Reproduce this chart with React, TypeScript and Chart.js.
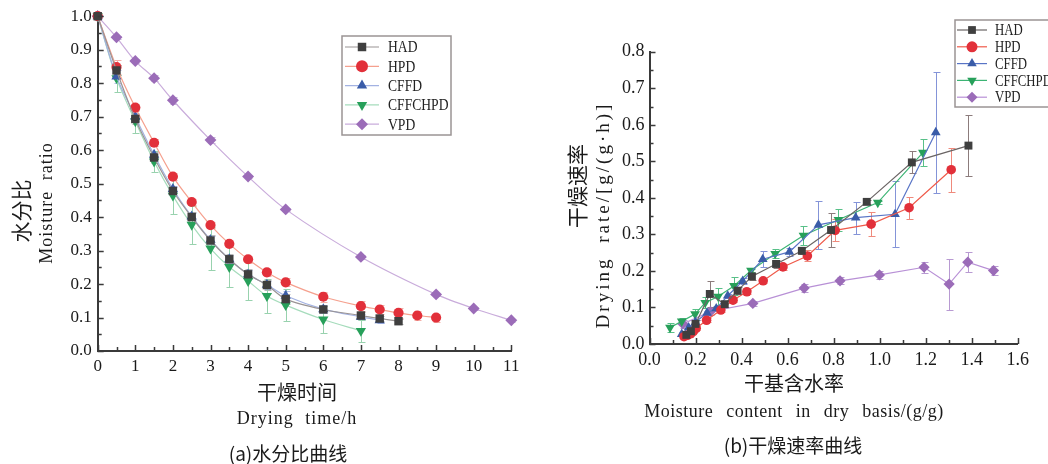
import React, { useEffect, useRef } from "react";
import { Chart, registerables } from "chart.js";
Chart.register(...registerables);

// ---------- (a) moisture ratio vs drying time ----------
const hadTime = [0, 0.5, 1, 1.5, 2, 2.5, 3, 3.5, 4, 4.5, 5, 6, 7, 7.5, 8];
const hadMR = [1.0, 0.838, 0.693, 0.578, 0.478, 0.4, 0.33, 0.274, 0.229, 0.197, 0.155, 0.124, 0.106, 0.097, 0.089];
const hadMRErr = [0, 0.015, 0.015, 0.015, 0.012, 0.015, 0.015, 0.015, 0.015, 0.015, 0.015, 0.01, 0.01, 0.008, 0.008];

const hpdTime = [0, 0.5, 1, 1.5, 2, 2.5, 3, 3.5, 4, 4.5, 5, 6, 7, 7.5, 8, 8.5, 9];
const hpdMR = [1.0, 0.848, 0.727, 0.622, 0.521, 0.445, 0.376, 0.32, 0.274, 0.235, 0.205, 0.162, 0.134, 0.124, 0.114, 0.106, 0.1];
const hpdMRErr = [0, 0.02, 0.01, 0.01, 0.01, 0.01, 0.01, 0.01, 0.01, 0.01, 0.012, 0.015, 0.016, 0.014, 0.014, 0.012, 0.012];

const cffdTime = [0, 0.5, 1, 1.5, 2, 2.5, 3, 3.5, 4, 4.5, 5, 6, 7, 7.5];
const cffdMR = [1.0, 0.82, 0.7, 0.586, 0.484, 0.402, 0.332, 0.274, 0.229, 0.198, 0.165, 0.125, 0.102, 0.092];
const cffdMRErr = [0, 0.02, 0.012, 0.012, 0.01, 0.01, 0.012, 0.012, 0.012, 0.012, 0.015, 0.012, 0.01, 0.008];

const chpdTime = [0, 0.5, 1, 1.5, 2, 2.5, 3, 3.5, 4, 4.5, 5, 6, 7];
const chpdMR = [1.0, 0.815, 0.686, 0.566, 0.464, 0.377, 0.306, 0.251, 0.209, 0.164, 0.137, 0.094, 0.06];
const chpdMRErr = [0, 0.04, 0.035, 0.03, 0.055, 0.057, 0.063, 0.06, 0.057, 0.05, 0.048, 0.041, 0.032];

const vpdTime = [0, 0.5, 1, 1.5, 2, 3, 4, 5, 7, 9, 10, 11];
const vpdMR = [1.0, 0.937, 0.866, 0.815, 0.749, 0.63, 0.521, 0.423, 0.281, 0.169, 0.127, 0.092];
const vpdMRErr = [0, 0.005, 0.006, 0.01, 0.01, 0.01, 0.005, 0.005, 0.005, 0.005, 0.005, 0.005];

const timeTicks = [0, 11, 1]; // min, max, step
const mrTicks = [0, 1, 0.1];

// ---------- (b) drying rate vs moisture content ----------
const hadMC = [0.16, 0.18, 0.2, 0.262, 0.327, 0.383, 0.445, 0.55, 0.662, 0.789, 0.944, 1.14, 1.386];
const hadRate = [0.025, 0.035, 0.055, 0.137, 0.109, 0.146, 0.185, 0.219, 0.255, 0.312, 0.389, 0.497, 0.543];
const hadRateErr = [0.008, 0.008, 0.01, 0.036, 0.008, 0.01, 0.01, 0.01, 0.01, 0.046, 0.005, 0.03, 0.084];

const hpdMC = [0.15, 0.165, 0.178, 0.19, 0.203, 0.248, 0.31, 0.363, 0.423, 0.494, 0.58, 0.686, 0.807, 0.963, 1.128, 1.311];
const hpdRate = [0.02, 0.024, 0.028, 0.034, 0.043, 0.065, 0.093, 0.12, 0.143, 0.173, 0.211, 0.241, 0.311, 0.328, 0.373, 0.477];
const hpdRateErr = [0.005, 0.005, 0.005, 0.005, 0.005, 0.005, 0.005, 0.005, 0.006, 0.006, 0.008, 0.015, 0.03, 0.032, 0.03, 0.06];

const cffdMC = [0.14, 0.17, 0.2, 0.25, 0.29, 0.34, 0.405, 0.492, 0.608, 0.734, 0.896, 1.067, 1.244];
const cffdRate = [0.027, 0.045, 0.06, 0.085, 0.097, 0.132, 0.172, 0.232, 0.252, 0.326, 0.346, 0.355, 0.579];
const cffdRateErr = [0.005, 0.005, 0.006, 0.006, 0.006, 0.006, 0.008, 0.022, 0.01, 0.066, 0.044, 0.09, 0.165];

const chpdMC = [0.089, 0.14, 0.198, 0.242, 0.298, 0.367, 0.441, 0.546, 0.669, 0.821, 0.992, 1.188];
const chpdRate = [0.045, 0.062, 0.082, 0.113, 0.13, 0.159, 0.201, 0.247, 0.297, 0.34, 0.387, 0.524];
const chpdRateErr = [0.012, 0.01, 0.015, 0.015, 0.022, 0.025, 0.005, 0.012, 0.027, 0.03, 0.005, 0.037];

const vpdMC = [0.145, 0.265, 0.449, 0.672, 0.828, 0.999, 1.193, 1.302, 1.383, 1.495];
const vpdRate = [0.055, 0.089, 0.111, 0.153, 0.173, 0.189, 0.21, 0.164, 0.224, 0.201];
const vpdRateErr = [0.01, 0.01, 0.008, 0.01, 0.01, 0.01, 0.015, 0.07, 0.028, 0.012];

const mcTicks = [0, 1.6, 0.2];
const rateTicks = [0, 0.8, 0.1];

const seriesNames = ["HAD", "HPD", "CFFD", "CFFCHPD", "VPD"];

// ---------- styles ----------
const markerColors = ["#3f3f3f", "#e2303a", "#3a5ca8", "#27a05a", "#9b6cb8"];
const markerStyles = ["rect", "circle", "triangle", "triangle", "rectRot"];
const markerRot = [0, 0, 0, 180, 0];
const markerRadius = [7, 6, 7, 7, 7];
const lineColorsA = ["#9a9494", "#f5a08e", "#a3b2e2", "#a6dcbc", "#c9acdb"];
const errColorsA = ["#b8b8b8", "#f3b0a8", "#b0bde8", "#98d2ae", "#c8b2dc"];
const lineColorsB = ["#6a6464", "#ef5a4a", "#5874c6", "#3cb474", "#b890d6"];
const errColorsB = ["#8c7c7c", "#ef8a7c", "#8494d8", "#58c088", "#b89ad2"];

const SERIF = "'Liberation Serif', 'Times New Roman', serif";
const CJK = "'Noto Sans CJK SC', sans-serif";

function pts(xs: number[], ys: number[]) {
  return xs.map((x, i) => ({ x, y: ys[i] }));
}

function drawMarker(ctx: CanvasRenderingContext2D, k: number, x: number, y: number, r: number) {
  ctx.save();
  ctx.fillStyle = markerColors[k];
  ctx.beginPath();
  const st = markerStyles[k];
  if (st === "rect") {
    const s = r * Math.SQRT1_2;
    ctx.rect(x - s, y - s, 2 * s, 2 * s);
  } else if (st === "circle") {
    ctx.arc(x, y, r, 0, Math.PI * 2);
  } else if (st === "triangle") {
    const dir = markerRot[k] === 180 ? -1 : 1;
    const w = (r * Math.sqrt(3)) / 2;
    ctx.moveTo(x, y - dir * r);
    ctx.lineTo(x - w, y + dir * r * 0.5);
    ctx.lineTo(x + w, y + dir * r * 0.5);
  } else {
    ctx.moveTo(x, y - r);
    ctx.lineTo(x + r, y);
    ctx.lineTo(x, y + r);
    ctx.lineTo(x - r, y);
  }
  ctx.closePath();
  ctx.fill();
  ctx.restore();
}

const errorBarPlugin = {
  id: "errorBars",
  beforeDatasetsDraw(chart: any) {
    const { ctx } = chart;
    const x = chart.scales.x;
    const y = chart.scales.y;
    chart.data.datasets.forEach((ds: any) => {
      const errs: number[] = ds.errors;
      if (!errs) return;
      ctx.save();
      ctx.strokeStyle = ds.errColor;
      ctx.lineWidth = 1;
      ctx.beginPath();
      ds.data.forEach((p: any, j: number) => {
        const e = errs[j];
        if (!e) return;
        const px = Math.round(x.getPixelForValue(p.x)) + 0.5;
        const y1 = Math.round(y.getPixelForValue(p.y + e)) + 0.5;
        const y2 = Math.round(y.getPixelForValue(p.y - e)) + 0.5;
        ctx.moveTo(px, y1);
        ctx.lineTo(px, y2);
        ctx.moveTo(px - 3, y1);
        ctx.lineTo(px + 4, y1);
        ctx.moveTo(px - 3, y2);
        ctx.lineTo(px + 4, y2);
      });
      ctx.stroke();
      ctx.restore();
    });
  },
};

const inTicksPlugin = {
  id: "inTicks",
  afterDraw(chart: any, _args: any, opts: any) {
    const { ctx, chartArea } = chart;
    const x = chart.scales.x;
    const y = chart.scales.y;
    ctx.save();
    ctx.strokeStyle = opts.color;
    ctx.lineWidth = 1.5;
    ctx.beginPath();
    const run = (sc: any, step: number, len: number, horiz: boolean) => {
      const n = Math.round((sc.max - sc.min) / step);
      for (let i = 0; i <= n; i++) {
        const v = sc.min + i * step;
        const p = Math.round(sc.getPixelForValue(v)) + 0.5;
        if (horiz) {
          ctx.moveTo(p, chartArea.bottom);
          ctx.lineTo(p, chartArea.bottom - len);
        } else {
          ctx.moveTo(chartArea.left, p);
          ctx.lineTo(chartArea.left + len, p);
        }
      }
    };
    run(x, opts.xStep, 6, true);
    run(x, opts.xStep / 2, 4, true);
    run(y, opts.yStep, 6, false);
    run(y, opts.yStep / 2, 4, false);
    ctx.stroke();
    ctx.restore();
  },
};

const legendPlugin = {
  id: "boxLegend",
  afterDraw(chart: any, _args: any, opts: any) {
    const { ctx } = chart;
    ctx.save();
    ctx.fillStyle = "#fff";
    ctx.fillRect(opts.x, opts.y, opts.w, opts.h);
    ctx.strokeStyle = "#9a9494";
    ctx.lineWidth = 1.5;
    ctx.strokeRect(opts.x, opts.y, opts.w, opts.h);
    chart.data.datasets.forEach((ds: any, k: number) => {
      const cy = opts.y0 + k * opts.rowH;
      ctx.strokeStyle = ds.borderColor;
      ctx.lineWidth = opts.lineW;
      ctx.beginPath();
      ctx.moveTo(opts.lx0, cy);
      ctx.lineTo(opts.lx1, cy);
      ctx.stroke();
      drawMarker(ctx, k, (opts.lx0 + opts.lx1) / 2, cy, opts.mr);
      ctx.save();
      ctx.translate(opts.tx, cy);
      ctx.scale(opts.sx, 1);
      ctx.fillStyle = "#222";
      ctx.font = `${opts.fs}px ${SERIF}`;
      ctx.textBaseline = "middle";
      ctx.fillText(ds.label, 0, 1);
      ctx.restore();
    });
    ctx.restore();
  },
};

function makeDatasets(xs: number[][], ys: number[][], errs: number[][], lineColors: string[], errColors: string[], tension: number, rScale: number, lw: number) {
  return seriesNames.map((name, k) => ({
    label: name,
    data: pts(xs[k], ys[k]),
    errors: errs[k],
    errColor: errColors[k],
    showLine: true,
    borderColor: lineColors[k],
    borderWidth: lw,
    tension,
    pointStyle: markerStyles[k],
    rotation: markerRot[k],
    pointRotation: markerRot[k],
    pointRadius: markerRadius[k] * rScale,
    pointHoverRadius: markerRadius[k] * rScale,
    pointBackgroundColor: markerColors[k],
    pointBorderColor: markerColors[k],
    pointBorderWidth: 0,
    clip: false,
  }));
}

function axisOpts(t: number[], fs: number, fixed: number, size: number, horiz: boolean, pad: number) {
  return {
    type: "linear",
    min: t[0],
    max: t[1],
    grid: { display: false, drawTicks: false },
    border: { display: true, color: "#3a3a3a", width: 2 },
    ticks: {
      stepSize: t[2],
      autoSkip: false,
      padding: pad,
      color: "#1a1a1a",
      font: { family: SERIF, size: fs },
      callback: (v: number) => Number(v).toFixed(fixed),
    },
    afterFit: (s: any) => {
      if (horiz) s.height = size;
      else s.width = size;
    },
  };
}

function configA(): any {
  return {
    type: "scatter",
    data: {
      datasets: makeDatasets(
        [hadTime, hpdTime, cffdTime, chpdTime, vpdTime],
        [hadMR, hpdMR, cffdMR, chpdMR, vpdMR],
        [hadMRErr, hpdMRErr, cffdMRErr, chpdMRErr, vpdMRErr],
        lineColorsA,
        errColorsA,
        0.3,
        0.85,
        1.2
      ),
    },
    options: {
      responsive: false,
      animation: false,
      devicePixelRatio: 1,
      layout: { padding: { left: 0, top: 15, right: 28.7, bottom: 0 } },
      scales: {
        x: axisOpts(timeTicks, 17, 0, 113, true, 5),
        y: axisOpts(mrTicks, 17, 1, 97.7, false, 6),
      },
      plugins: {
        legend: { display: false },
        tooltip: { enabled: false },
        inTicks: { color: "#3a3a3a", xStep: 1, yStep: 0.1 },
        boxLegend: { x: 342, y: 36, w: 109, h: 99, y0: 47, rowH: 19.3, lx0: 345, lx1: 379, tx: 388, mr: 6, fs: 17, sx: 0.8, lineW: 1.2 },
      },
    },
    plugins: [errorBarPlugin, inTicksPlugin, legendPlugin],
  };
}

function configB(): any {
  return {
    type: "scatter",
    data: {
      datasets: makeDatasets(
        [hadMC, hpdMC, cffdMC, chpdMC, vpdMC],
        [hadRate, hpdRate, cffdRate, chpdRate, vpdRate],
        [hadRateErr, hpdRateErr, cffdRateErr, chpdRateErr, vpdRateErr],
        lineColorsB,
        errColorsB,
        0,
        0.8,
        1.2
      ),
    },
    options: {
      responsive: false,
      animation: false,
      devicePixelRatio: 1,
      layout: { padding: { left: 0, top: 51.7, right: 30.3, bottom: 0 } },
      scales: {
        x: axisOpts(mcTicks, 18, 1, 120, true, 5),
        y: axisOpts(rateTicks, 18, 1, 109.5, false, 5),
      },
      plugins: {
        legend: { display: false },
        tooltip: { enabled: false },
        inTicks: { color: "#3a3a3a", xStep: 0.2, yStep: 0.1 },
        boxLegend: { x: 415, y: 20, w: 100, h: 87, y0: 30, rowH: 16.8, lx0: 417, lx1: 447, tx: 455, mr: 5.5, fs: 16, sx: 0.8, lineW: 1.2 },
      },
    },
    plugins: [errorBarPlugin, inTicksPlugin, legendPlugin],
  };
}

const txt = (x: number, y: number, text: string, font: string, size: number, rot = false, extra: any = {}) => (
  <div
    style={{
      position: "absolute",
      left: x,
      top: y,
      transform: `translate(-50%, -50%)${rot ? " rotate(-90deg)" : ""}`,
      fontFamily: font,
      fontSize: size,
      whiteSpace: "nowrap",
      color: "#1a1a1a",
      lineHeight: 1,
      ...extra,
    }}
  >
    {text}
  </div>
);

export default function App() {
  const aRef = useRef<HTMLCanvasElement>(null);
  const bRef = useRef<HTMLCanvasElement>(null);
  useEffect(() => {
    const a = new Chart(aRef.current as HTMLCanvasElement, configA());
    const b = new Chart(bRef.current as HTMLCanvasElement, configB());
    return () => {
      a.destroy();
      b.destroy();
    };
  }, []);
  return (
    <div style={{ position: "absolute", left: 0, top: 0, width: 1048, height: 464, background: "#fff", overflow: "hidden" }}>
      <canvas ref={aRef} width={540} height={464} style={{ position: "absolute", left: 0, top: 0 }} />
      <canvas ref={bRef} width={508} height={464} style={{ position: "absolute", left: 540, top: 0 }} />
      {txt(20, 211, "水分比", CJK, 21, true)}
      {txt(46, 203, "Moisture ratio", SERIF, 18, true, { wordSpacing: 5, letterSpacing: 1 })}
      {txt(297, 392, "干燥时间", CJK, 20)}
      {txt(297, 418, "Drying time/h", SERIF, 18, false, { wordSpacing: 6, letterSpacing: 1 })}
      {txt(288, 452, "(a)水分比曲线", CJK, 19)}
      {txt(576, 186, "干燥速率", CJK, 21, true)}
      {txt(602, 215, "Drying rate/[g/(g·h)]", SERIF, 19, true, { wordSpacing: 6, letterSpacing: 3 })}
      {txt(794, 383, "干基含水率", CJK, 20)}
      {txt(794, 411, "Moisture content in dry basis/(g/g)", SERIF, 18, false, { wordSpacing: 8, letterSpacing: 0.5 })}
      {txt(793, 444, "(b)干燥速率曲线", CJK, 19)}
    </div>
  );
}
